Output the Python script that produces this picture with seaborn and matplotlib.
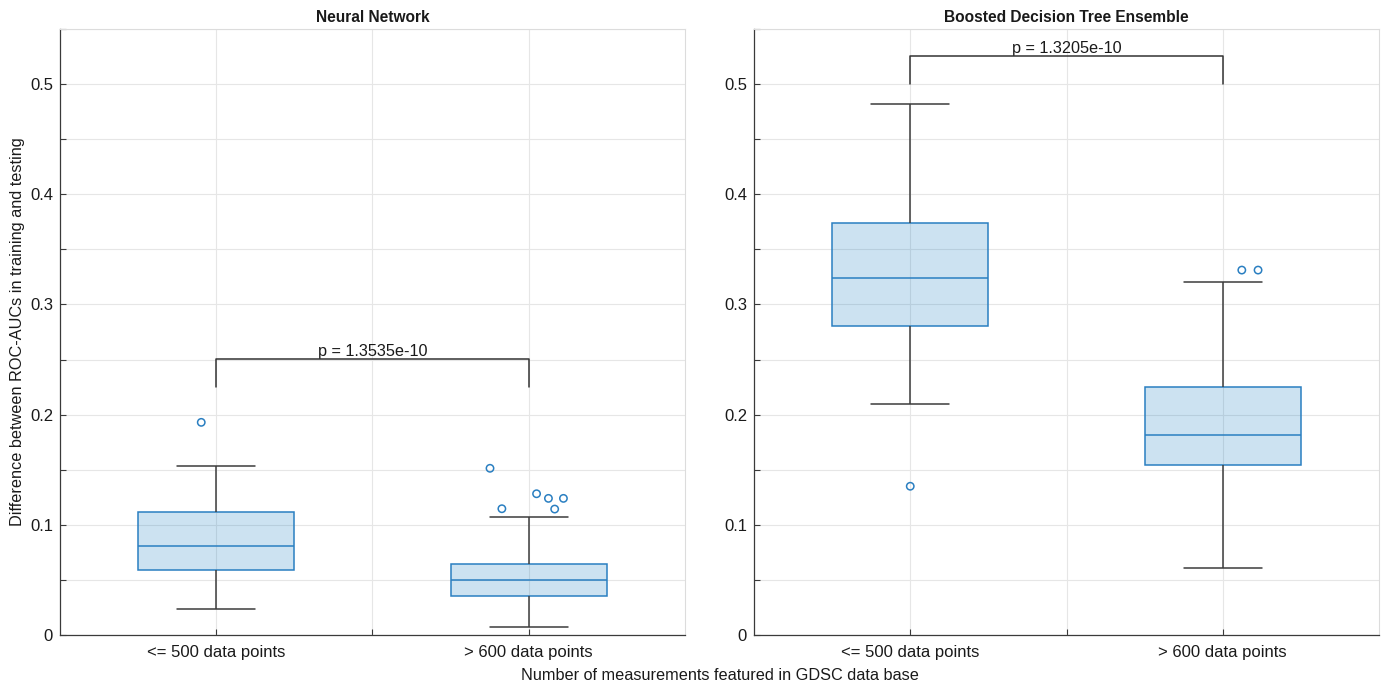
import numpy as np
import pandas as pd
import matplotlib
matplotlib.use("Agg")
import matplotlib.pyplot as plt
from matplotlib.ticker import MultipleLocator, FixedLocator, FuncFormatter
import seaborn as sns

# ---- data -------------------------------------------------------------
groups = ["<= 500 data points", "> 600 data points"]

# Neural Network: five-number summaries per group and outliers
nn_low = [0.0236, 0.0073]
nn_q1 = [0.0590, 0.0357]
nn_median = [0.0808, 0.0496]
nn_q3 = [0.1116, 0.0644]
nn_high = [0.1534, 0.1074]
nn_outliers = [[0.1930], [0.1513, 0.1146, 0.1282, 0.1240, 0.1240, 0.1143]]
nn_p_value = "p = 1.3535e-10"

# Boosted Decision Tree Ensemble
bdt_low = [0.2096, 0.0608]
bdt_q1 = [0.2804, 0.1540]
bdt_median = [0.3237, 0.1815]
bdt_q3 = [0.3736, 0.2250]
bdt_high = [0.4819, 0.3206]
bdt_outliers = [[0.1350], [0.3312, 0.3312]]
bdt_p_value = "p = 1.3205e-10"

# horizontal jitter of the outlier markers (category units)
nn_jitter = [[-0.048], [-0.124, -0.086, 0.025, 0.063, 0.111, 0.083]]
bdt_jitter = [[0.0], [0.061, 0.113]]

# significance bracket: (leg bottom, bar height)
nn_bracket = (0.225, 0.2505)
bdt_bracket = (0.500, 0.5254)

# ---- style ------------------------------------------------------------
sns.set_theme(style="white")
plt.rcParams["font.family"] = ["Liberation Sans", "DejaVu Sans"]

BLUE = "#2a7fc1"
FILL = (0.0, 0.447, 0.741, 0.2)
WHISK = "#3c3c3c"
GRID = "#e6e6e6"
AXIS = "#3a3a3a"


def observations(low, q1, med, q3, high, outliers, reps=10):
    """Sample whose quartiles, whisker ends and outliers equal the given summary."""
    rows = []
    for g, lo, a, m, b, hi, out in zip(groups, low, q1, med, q3, high, outliers):
        vals = [lo] + [a] * reps + [m] * reps + [b] * reps + [hi] + list(out)
        rows += [(g, v) for v in vals]
    return pd.DataFrame(rows, columns=["group", "value"])


def draw_panel(ax, df, outliers, jitter, bracket, ptext, title, whis):
    sns.boxplot(
        data=df, x="group", y="value", order=groups, ax=ax,
        width=0.5, whis=whis, showfliers=False, saturation=1,
        boxprops=dict(facecolor=FILL, edgecolor=BLUE, linewidth=1.1),
        medianprops=dict(color=BLUE, linewidth=1.1),
        whiskerprops=dict(color=WHISK, linewidth=1.1),
        capprops=dict(color=WHISK, linewidth=1.1),
    )
    pts = pd.DataFrame(
        [(i + j, v) for i, (vals, jit) in enumerate(zip(outliers, jitter))
         for v, j in zip(vals, jit)],
        columns=["x", "value"],
    )
    sns.scatterplot(data=pts, x="x", y="value", ax=ax, marker="o", s=28,
                    facecolor="none", edgecolor=BLUE, linewidth=1.1, zorder=4)

    lo, hi = bracket
    ax.plot([0, 0, 1, 1], [lo, hi, hi, lo], color="#333333", lw=1.1, zorder=5)
    ax.annotate(ptext, xy=(0.5, hi), xytext=(0, 2), textcoords="offset points",
                ha="center", va="baseline", fontsize=11.7, color="#1a1a1a")

    ax.set_xlim(-0.5, 1.5)
    ax.set_ylim(0, 0.55)
    ax.xaxis.set_major_locator(FixedLocator([0, 1]))
    ax.set_xticklabels(groups)
    ax.xaxis.set_minor_locator(FixedLocator([0.5]))
    ax.yaxis.set_major_locator(MultipleLocator(0.1))
    ax.yaxis.set_minor_locator(MultipleLocator(0.05))
    ax.yaxis.set_major_formatter(
        FuncFormatter(lambda v, _: "0" if abs(v) < 1e-9 else f"{v:.1f}"))
    ax.set_axisbelow(True)
    ax.grid(True, which="both", color=GRID, linewidth=0.8)
    ax.tick_params(which="both", direction="in", length=4.5, width=0.8,
                   color=AXIS, labelsize=12, labelcolor="#1a1a1a",
                   top=False, right=False, left=True, bottom=True)
    ax.tick_params(axis="x", pad=7)
    ax.tick_params(axis="y", pad=5)
    for side in ("left", "bottom"):
        ax.spines[side].set_color(AXIS)
        ax.spines[side].set_linewidth(0.9)
    for side in ("top", "right"):
        ax.spines[side].set_color("#dcdcdc")
        ax.spines[side].set_linewidth(0.8)
    ax.set_xlabel("")
    ax.set_ylabel("")
    ax.set_title(title, fontsize=11.2, fontweight="bold", pad=5, color="#1a1a1a")


W, H = 1386, 683
fig = plt.figure(figsize=(W / 100, H / 100), dpi=100)
ax1 = fig.add_axes([60 / W, 1 - 635 / H, 625 / W, 606 / H])
ax2 = fig.add_axes([754 / W, 1 - 635 / H, 625 / W, 606 / H])

draw_panel(ax1, observations(nn_low, nn_q1, nn_median, nn_q3, nn_high, nn_outliers),
           nn_outliers, nn_jitter, nn_bracket, nn_p_value, "Neural Network", 1.52)
draw_panel(ax2, observations(bdt_low, bdt_q1, bdt_median, bdt_q3, bdt_high, bdt_outliers),
           bdt_outliers, bdt_jitter, bdt_bracket, bdt_p_value,
           "Boosted Decision Tree Ensemble", 1.42)

fig.text(719.5 / W, 1 - 675 / H, "Number of measurements featured in GDSC data base",
         ha="center", va="center", fontsize=11.7, color="#1a1a1a")
fig.text(18 / W, 1 - 332 / H, "Difference between ROC-AUCs in training and testing",
         ha="center", va="center", rotation=90, fontsize=11.7, color="#1a1a1a")

fig.savefig("out.png", dpi=100)
